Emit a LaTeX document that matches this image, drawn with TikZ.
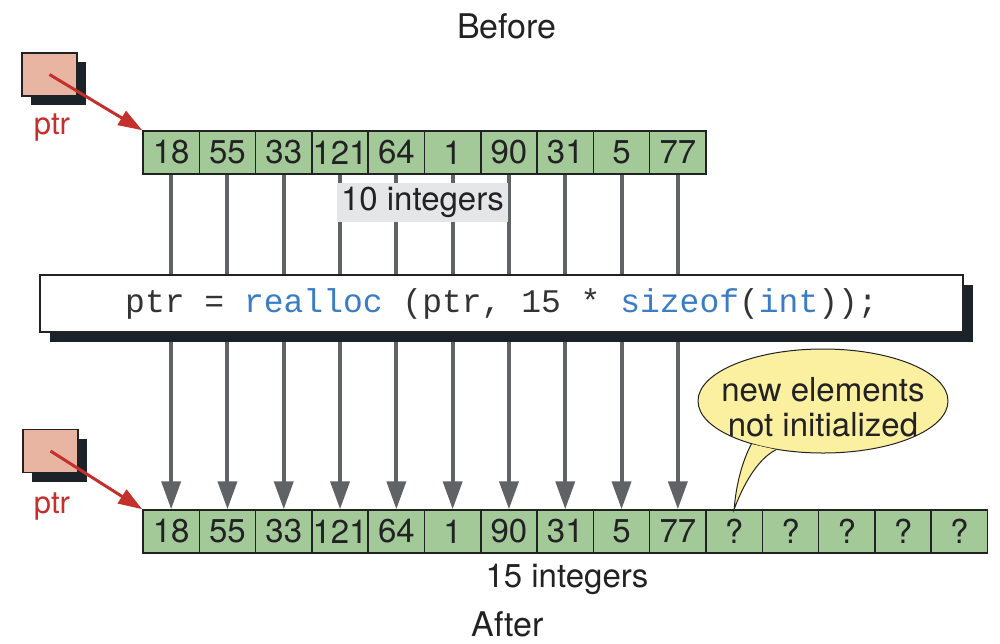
\documentclass[tikz,border=0pt]{standalone}
\usepackage{fontspec}
\setmainfont{TeX Gyre Heros}
\newfontfamily\codefont{Liberation Mono}
\usepackage{tikz}
\usetikzlibrary{shapes.geometric,shadows,arrows.meta}

\definecolor{inkc}{RGB}{34,34,36}
\definecolor{cellgreen}{RGB}{163,201,153}
\definecolor{ptrpink}{RGB}{232,181,162}
\definecolor{ptrred}{RGB}{196,48,43}
\definecolor{shadowc}{RGB}{27,35,41}
\definecolor{arrowgray}{RGB}{96,99,102}
\definecolor{labelgray}{RGB}{229,230,232}
\definecolor{kwblue}{RGB}{59,125,196}
\definecolor{codegray}{RGB}{51,51,51}
\definecolor{noteyellow}{RGB}{251,239,160}

\begin{document}
\begin{tikzpicture}[x=1pt,y=-1pt,inner sep=0pt,
  cell/.style={rectangle,draw=inkc,line width=1.5pt,fill=cellgreen,minimum width=56.3pt,minimum height=43pt,text=inkc,font=\fontsize{33}{36}\selectfont},
  ptrbox/.style={rectangle,draw=inkc,line width=1.5pt,fill=ptrpink,minimum width=55pt,minimum height=43pt,general shadow={fill=shadowc,shadow xshift=9pt,shadow yshift=-9pt}},
  ptrlabel/.style={anchor=base,text=ptrred,font=\fontsize{31}{34}\selectfont},
  ptrarrow/.style={draw=ptrred,line width=3pt,-{Triangle[length=24pt,width=16pt]}},
  copyarrow/.style={draw=arrowgray,line width=4pt,-{Triangle[length=28pt,width=19pt]}},
  caption/.style={anchor=base,text=inkc,font=\fontsize{33}{36}\selectfont}]
\useasboundingbox (0,0) rectangle (1000,643);

% old block, 10 ints
\node at (171.15,152.5) [cell] (t1) {18};
\node at (227.45,152.5) [cell] (t2) {55};
\node at (283.75,152.5) [cell] (t3) {33};
\node at (340.05,152.5) [cell] (t4) {121};
\node at (396.35,152.5) [cell] (t5) {64};
\node at (452.65,152.5) [cell] (t6) {1};
\node at (508.95,152.5) [cell] (t7) {90};
\node at (565.25,152.5) [cell] (t8) {31};
\node at (621.55,152.5) [cell] (t9) {5};
\node at (677.85,152.5) [cell] (t10) {77};

% new block, 15 ints
\node at (171.15,531.5) [cell] (b1) {18};
\node at (227.45,531.5) [cell] (b2) {55};
\node at (283.75,531.5) [cell] (b3) {33};
\node at (340.05,531.5) [cell] (b4) {121};
\node at (396.35,531.5) [cell] (b5) {64};
\node at (452.65,531.5) [cell] (b6) {1};
\node at (508.95,531.5) [cell] (b7) {90};
\node at (565.25,531.5) [cell] (b8) {31};
\node at (621.55,531.5) [cell] (b9) {5};
\node at (677.85,531.5) [cell] (b10) {77};
\node at (734.15,531.5) [cell] (b11) {?};
\node at (790.45,531.5) [cell] (b12) {?};
\node at (846.75,531.5) [cell] (b13) {?};
\node at (903.05,531.5) [cell] (b14) {?};
\node at (959.35,531.5) [cell] (b15) {?};

% copied values
\draw [copyarrow] (t1) -- (b1);
\draw [copyarrow] (t2) -- (b2);
\draw [copyarrow] (t3) -- (b3);
\draw [copyarrow] (t4) -- (b4);
\draw [copyarrow] (t5) -- (b5);
\draw [copyarrow] (t6) -- (b6);
\draw [copyarrow] (t7) -- (b7);
\draw [copyarrow] (t8) -- (b8);
\draw [copyarrow] (t9) -- (b9);
\draw [copyarrow] (t10) -- (b10);

\node at (422.5,202.5) [fill=labelgray,minimum width=171pt,minimum height=39pt,text=inkc,font=\fontsize{33}{36}\selectfont] (tenlbl) {10 integers};

% the call
\node at (501.5,303.5) [rectangle,draw=inkc,line width=2pt,fill=white,minimum width=923pt,minimum height=57pt,general shadow={fill=shadowc,shadow xshift=10pt,shadow yshift=-10pt},text=codegray,font=\codefont\fontsize{33}{36}\selectfont] (call) {ptr = \textcolor{kwblue}{realloc} (ptr, 15 * \textcolor{kwblue}{sizeof}(\textcolor{kwblue}{int}));};

% pointers
\node at (49.5,74.5) [ptrbox] (ptrA) {};
\node at (50.5,451) [ptrbox] (ptrB) {};
\node at (52,134) [ptrlabel] (ptrAlbl) {ptr};
\node at (52,513) [ptrlabel] (ptrBlbl) {ptr};
\draw [ptrarrow] (ptrA.center) -- (t1.north west);
\draw [ptrarrow] (ptrB.center) -- (b1.north west);

% callout
\node at (823,401) [ellipse,draw=inkc,line width=1pt,fill=noteyellow,minimum width=250pt,minimum height=104pt] (bubble) {};
\fill [noteyellow] (bubble.211) .. controls (742,462) and (736,485) .. (b11.north) .. controls (742,488) and (756,460) .. (bubble.226) -- cycle;
\draw [inkc,line width=1pt] (bubble.211) .. controls (742,462) and (736,485) .. (b11.north) .. controls (742,488) and (756,460) .. (bubble.226);
\node at (823,407.5) [align=center,text=inkc,font=\fontsize{33}{35}\selectfont] (note) {new elements\\not initialized};

% captions
\node at (507,38) [caption,font=\fontsize{34}{36}\selectfont] (before) {Before};
\node at (508,636) [caption,font=\fontsize{34}{36}\selectfont] (after) {After};
\node at (567,587) [caption] (fifteen) {15 integers};
\end{tikzpicture}
\end{document}
